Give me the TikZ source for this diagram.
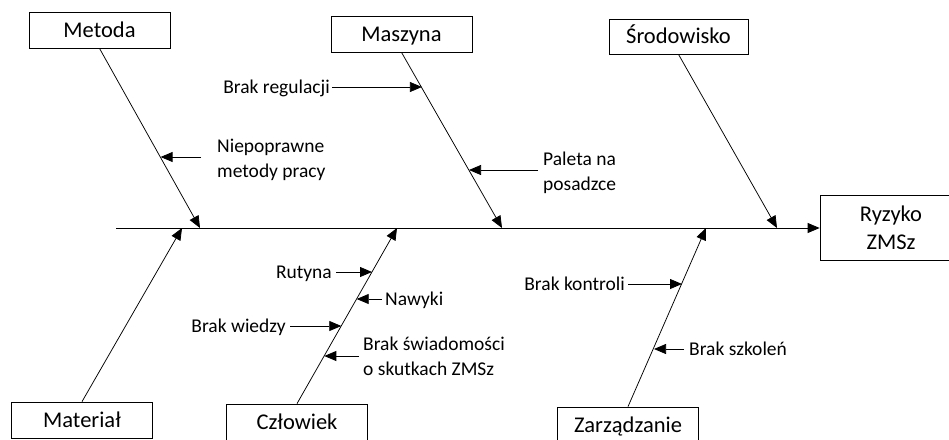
\documentclass[tikz,border=0pt]{standalone}
\usepackage{fontspec}
\setmainfont{Carlito}
\usetikzlibrary{arrows.meta}
\begin{document}
\begin{tikzpicture}[x=1pt,y=-1pt,
  box/.style={draw,line width=0.75pt,minimum width=141pt,minimum height=36pt,inner sep=0pt,
    font=\fontsize{22.5}{28.3}\selectfont},
  oneline/.style={text height=14.5pt,text depth=0pt},
  lbl/.style={inner sep=0pt,font=\fontsize{19.5}{25}\selectfont,text height=12.6pt,text depth=0pt},
  lbltwo/.style={inner sep=0pt,font=\fontsize{19.5}{25}\selectfont,align=left},
  arr/.style={line width=0.75pt,-{Triangle[length=12pt,width=10pt]}}]
\useasboundingbox (0,0) rectangle (949,439);
\clip (0,0) rectangle (949,439);

% category boxes
\node[box,oneline] (met) at (99.5,30) {Metoda};
\node[box,oneline] (mas) at (401.5,34) {Maszyna};
\node[box,oneline,minimum width=139pt,minimum height=35pt] (sro) at (678.5,36.5) {Środowisko};
\node[box,minimum width=142pt,minimum height=65pt,align=center] (ryz) at (891,227.5) {Ryzyko\\ZMSz};
\node[box,oneline] (mat) at (82,420) {Materiał};
\node[box,oneline] (czl) at (297,422) {Człowiek};
\node[box,oneline] (zar) at (628,425) {Zarządzanie};

% spine
\coordinate (head) at (116,228);
\draw[arr] (head) -- (ryz.west |- head);

% bone ends on the spine
\coordinate (pm) at (200,228);
\coordinate (pma) at (502,228);
\coordinate (ps) at (777,228);
\coordinate (pmat) at (182,228);
\coordinate (pc) at (397,228);
\coordinate (pz) at (706,228);

\draw[arr] (met.south) -- (pm);
\draw[arr] (mas.south) -- (pma);
\draw[arr] (sro.south) -- (ps);
\draw[arr] (mat.north) -- (pmat);
\draw[arr] (czl.north) -- (pc);
\draw[arr] (zar.north) -- (pz);

% tips of the cause arrows on the bones
\coordinate (t1) at (160.6,157);
\coordinate (t2) at (421.9,87);
\coordinate (t3) at (469,170);
\coordinate (t4) at (372,272);
\coordinate (t5) at (356.7,299);
\coordinate (t6) at (341.3,326);
\coordinate (t7) at (324.3,356);
\coordinate (t8) at (682,284);
\coordinate (t9) at (654,349);

% labels
\node[lbltwo,anchor=west] (l1) at (217,159.5) {Niepoprawne\\metody pracy};
\node[lbl,anchor=east] (l2) at (330,87) {Brak regulacji};
\node[lbltwo,anchor=west] (l3) at (543,172.5) {Paleta na\\posadzce};
\node[lbl,anchor=east] (l4) at (332,272) {Rutyna};
\node[lbl,anchor=west] (l5) at (385,299) {Nawyki};
\node[lbl,anchor=east] (l6) at (286,326) {Brak wiedzy};
\node[lbltwo,anchor=west] (l7) at (363,356.5) {Brak świadomości\\o skutkach ZMSz};
\node[lbl,anchor=east] (l8) at (625,284) {Brak kontroli};
\node[lbl,anchor=west] (l9) at (689,349) {Brak szkoleń};

% cause arrows
\draw[arr] (l1.west |- t1) ++(-16,0) -- (t1);
\draw[arr] (l2.east |- t2) ++(2,0) -- (t2);
\draw[arr] (l3.west |- t3) ++(-5,0) -- (t3);
\draw[arr] (l4.east |- t4) ++(4,0) -- (t4);
\draw[arr] (l5.west |- t5) ++(-3,0) -- (t5);
\draw[arr] (l6.east |- t6) ++(4,0) -- (t6);
\draw[arr] (l7.west |- t7) ++(-4,0) -- (t7);
\draw[arr] (l8.east |- t8) ++(3,0) -- (t8);
\draw[arr] (l9.west |- t9) ++(-5,0) -- (t9);
\end{tikzpicture}
\end{document}
